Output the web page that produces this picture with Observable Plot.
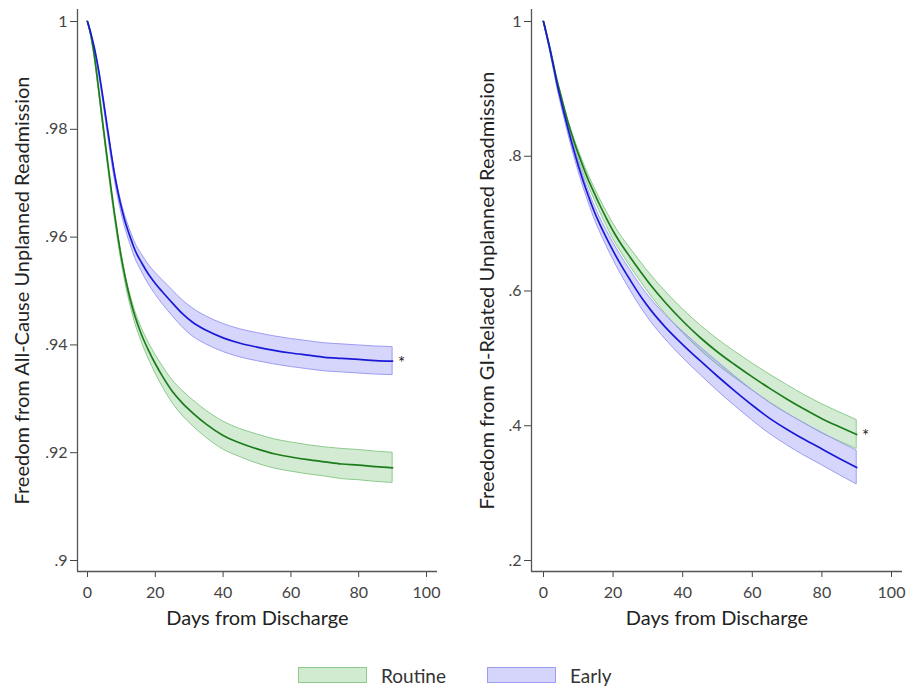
<!DOCTYPE html>
<html>
<head>
<meta charset="utf-8">
<script src="https://cdn.jsdelivr.net/npm/d3@7"></script>
<script src="https://cdn.jsdelivr.net/npm/@observablehq/plot@0.6"></script>
<style>
  body { margin: 0; background: #fff; font-family: Lato, "Open Sans", sans-serif; }
  #wrap { position: relative; width: 915px; height: 689px; overflow: hidden; background: #fff; }
  #left { position: absolute; left: 0; top: 0; }
  #right { position: absolute; left: 457px; top: 0; }
  .legend { position: absolute; top: 663px; height: 24px; display: flex; align-items: center; font-size: 19px; color: #333; }
  .sw { width: 69px; height: 16px; border: 1px solid; box-sizing: border-box; margin-right: 14px; }
</style>
</head>
<body>
<div id="wrap">
  <div id="left"></div>
  <div id="right"></div>
</div>
<script>
// ---------- data ----------
const groups = ["Routine", "Early"];
const days = [0,1,2,3,4,5,6,7,8,9,10,11,12,13,14,16,18,20,22,25,28,31,35,40,45,50,55,60,65,70,75,80,85,90];

// Left panel: all-cause readmission
const allRoutine   = [1.0000,0.9975,0.9938,0.9890,0.9838,0.9787,0.9737,0.9688,0.9642,0.9600,0.9562,0.9529,0.9500,0.9475,0.9453,0.9418,0.9390,0.9365,0.9343,0.9314,0.9292,0.9274,0.9253,0.9232,0.9218,0.9207,0.9198,0.9192,0.9187,0.9183,0.9179,0.9177,0.9174,0.9172];
const allRoutineLo = [1.0000,0.9974,0.9937,0.9888,0.9836,0.9784,0.9733,0.9683,0.9637,0.9594,0.9555,0.9521,0.9491,0.9465,0.9442,0.9405,0.9375,0.9348,0.9324,0.9293,0.9269,0.9250,0.9228,0.9206,0.9192,0.9180,0.9171,0.9165,0.9160,0.9156,0.9151,0.9149,0.9146,0.9144];
const allRoutineHi = [1.0000,0.9976,0.9939,0.9892,0.9840,0.9790,0.9741,0.9693,0.9647,0.9606,0.9569,0.9537,0.9509,0.9485,0.9464,0.9431,0.9405,0.9382,0.9362,0.9335,0.9315,0.9298,0.9278,0.9258,0.9244,0.9234,0.9225,0.9219,0.9214,0.9210,0.9207,0.9205,0.9202,0.9200];
const allEarly     = [1.0000,0.9978,0.9952,0.9920,0.9882,0.9840,0.9797,0.9755,0.9716,0.9683,0.9655,0.9631,0.9611,0.9593,0.9576,0.9552,0.9531,0.9514,0.9499,0.9478,0.9458,0.9442,0.9427,0.9413,0.9403,0.9396,0.9390,0.9385,0.9381,0.9377,0.9375,0.9373,0.9371,0.9370];
const allEarlyLo   = [1.0000,0.9977,0.9950,0.9917,0.9878,0.9835,0.9791,0.9748,0.9708,0.9674,0.9645,0.9620,0.9599,0.9580,0.9562,0.9536,0.9513,0.9494,0.9477,0.9454,0.9433,0.9416,0.9401,0.9387,0.9377,0.9370,0.9364,0.9359,0.9355,0.9351,0.9349,0.9347,0.9345,0.9344];
const allEarlyHi   = [1.0000,0.9979,0.9954,0.9923,0.9886,0.9845,0.9803,0.9762,0.9724,0.9692,0.9665,0.9642,0.9623,0.9606,0.9590,0.9568,0.9549,0.9534,0.9521,0.9502,0.9483,0.9468,0.9453,0.9439,0.9429,0.9422,0.9416,0.9411,0.9407,0.9403,0.9401,0.9399,0.9397,0.9396];

// Right panel: GI-related readmission
const giRoutine   = [1.000,0.979,0.957,0.933,0.910,0.890,0.870,0.851,0.834,0.818,0.8035,0.7895,0.776,0.7635,0.752,0.7295,0.7085,0.689,0.672,0.6495,0.628,0.6075,0.583,0.5555,0.531,0.5095,0.4905,0.4725,0.4555,0.4395,0.4245,0.4105,0.3985,0.387];
const giRoutineLo = [1.000,0.978,0.955,0.9305,0.907,0.886,0.8655,0.846,0.8285,0.812,0.797,0.7825,0.7685,0.7555,0.7435,0.720,0.698,0.6775,0.660,0.636,0.6135,0.592,0.5665,0.538,0.5125,0.4905,0.471,0.4525,0.435,0.4185,0.4035,0.389,0.377,0.3655];
const giRoutineHi = [1.000,0.980,0.959,0.9355,0.913,0.894,0.8745,0.856,0.8395,0.824,0.810,0.7965,0.7835,0.7715,0.7605,0.739,0.719,0.7005,0.684,0.663,0.6425,0.623,0.5995,0.573,0.5495,0.5285,0.510,0.4925,0.476,0.4605,0.4455,0.432,0.420,0.4085];
const giEarly     = [1.000,0.978,0.955,0.930,0.905,0.883,0.862,0.8415,0.822,0.8035,0.786,0.7695,0.754,0.7395,0.7255,0.701,0.6795,0.6595,0.641,0.6155,0.5915,0.5705,0.5465,0.5205,0.4965,0.4735,0.4515,0.4305,0.411,0.3945,0.3795,0.3655,0.3515,0.338];
const giEarlyLo   = [1.000,0.977,0.953,0.927,0.901,0.878,0.8565,0.8355,0.8155,0.7965,0.7785,0.7615,0.7455,0.7305,0.716,0.6905,0.668,0.647,0.6275,0.6005,0.5755,0.5535,0.5285,0.501,0.476,0.452,0.4295,0.408,0.388,0.371,0.3555,0.3415,0.327,0.313];
const giEarlyHi   = [1.000,0.979,0.957,0.933,0.909,0.888,0.8675,0.8475,0.8285,0.8105,0.7935,0.7775,0.7625,0.7485,0.735,0.7115,0.691,0.672,0.6545,0.6305,0.6075,0.5875,0.5645,0.540,0.517,0.495,0.4735,0.453,0.434,0.418,0.4035,0.3895,0.376,0.363];

const xTicks = [0, 20, 40, 60, 80, 100];
const yTicksAll = [0.9, 0.92, 0.94, 0.96, 0.98, 1];
const yTicksGI = [0.2, 0.4, 0.6, 0.8, 1];
const xTitle = "Days from Discharge";
const yTitleAll = "Freedom from All-Cause Unplanned Readmission";
const yTitleGI = "Freedom from GI-Related Unplanned Readmission";
const starText = "*";

// ---------- styling ----------
const colors = {
  Routine: {line: "#1c7c1c", fill: "#5cb85c", edge: "#8ccb8c"},
  Early:   {line: "#1a1ad6", fill: "#6a6af5", edge: "#9c9cf2"}
};
const FONT = "Lato, 'Open Sans', sans-serif";

function rows(group, v, lo, hi) {
  return days.map((d, i) => ({group, day: d, v: v[i], lo: lo[i], hi: hi[i]}));
}
const fmt = d => String(d).replace(/^0\./, ".");

function panel({width, marginLeft, marginRight, xDomain, yDomain, yTicks, yTitle, titleDx, series, star}) {
  const marks = [];
  for (const s of series) {
    const c = colors[s[0].group];
    marks.push(Plot.areaY(s, {x: "day", y1: "lo", y2: "hi", curve: "monotone-x",
      fill: c.fill, fillOpacity: 0.28, stroke: c.edge, strokeWidth: 1}));
  }
  for (const s of series) {
    const c = colors[s[0].group];
    marks.push(Plot.lineY(s, {x: "day", y: "v", curve: "monotone-x", stroke: c.line, strokeWidth: 1.7}));
  }
  marks.push(
    Plot.ruleX([xDomain[0]], {stroke: "#555", strokeWidth: 1.3}),
    Plot.ruleY([yDomain[0]], {stroke: "#555", strokeWidth: 1.3}),
    Plot.text([star], {x: "day", y: "v", text: () => starText, dx: 9, dy: 2, fontSize: 17, fill: "#222"}),
    Plot.text([yTitle], {frameAnchor: "left", textAnchor: "middle", lineAnchor: "middle", rotate: -90, dx: titleDx, fontSize: 20, fill: "#222", text: d => d}),
    Plot.text([xTitle], {frameAnchor: "bottom", textAnchor: "middle", lineAnchor: "middle", dy: 47, fontSize: 20, fill: "#222", text: d => d})
  );
  return Plot.plot({
    width, height: 640,
    marginTop: 9, marginBottom: 69, marginLeft, marginRight,
    style: {fontFamily: FONT, fontSize: "16px", color: "#444", background: "transparent", overflow: "visible"},
    x: {domain: xDomain, ticks: xTicks, tickSize: 6, tickPadding: 9, label: null},
    y: {domain: yDomain, ticks: yTicks, tickFormat: fmt, tickSize: 7, tickPadding: 3, label: null},
    marks
  });
}

const leftSeries = [rows("Routine", allRoutine, allRoutineLo, allRoutineHi), rows("Early", allEarly, allEarlyLo, allEarlyHi)];
const rightSeries = [rows("Routine", giRoutine, giRoutineLo, giRoutineHi), rows("Early", giEarly, giEarlyLo, giEarlyHi)];

document.getElementById("left").appendChild(panel({
  width: 457, marginLeft: 77, marginRight: 20,
  xDomain: [-2.95, 103.24], yDomain: [0.89796, 1.00223], yTicks: yTicksAll,
  yTitle: yTitleAll, titleDx: -55, series: leftSeries,
  star: leftSeries[1][leftSeries[1].length - 1]
}));
document.getElementById("right").appendChild(panel({
  width: 458, marginLeft: 74, marginRight: 13,
  xDomain: [-3.45, 103.16], yDomain: [0.1837, 1.0178], yTicks: yTicksGI,
  yTitle: yTitleGI, titleDx: -44, series: rightSeries,
  star: rightSeries[0][rightSeries[0].length - 1]
}));

// legend
const legendLeft = [298, 487];
const wrap = document.getElementById("wrap");
groups.forEach((g, i) => {
  const item = document.createElement("div");
  item.className = "legend";
  item.style.left = legendLeft[i] + "px";
  const sw = document.createElement("div");
  sw.className = "sw";
  sw.style.background = d3.interpolateRgb("#ffffff", colors[g].fill)(0.28);
  sw.style.borderColor = colors[g].edge;
  item.appendChild(sw);
  item.appendChild(document.createTextNode(g));
  wrap.appendChild(item);
});
</script>
</body>
</html>
